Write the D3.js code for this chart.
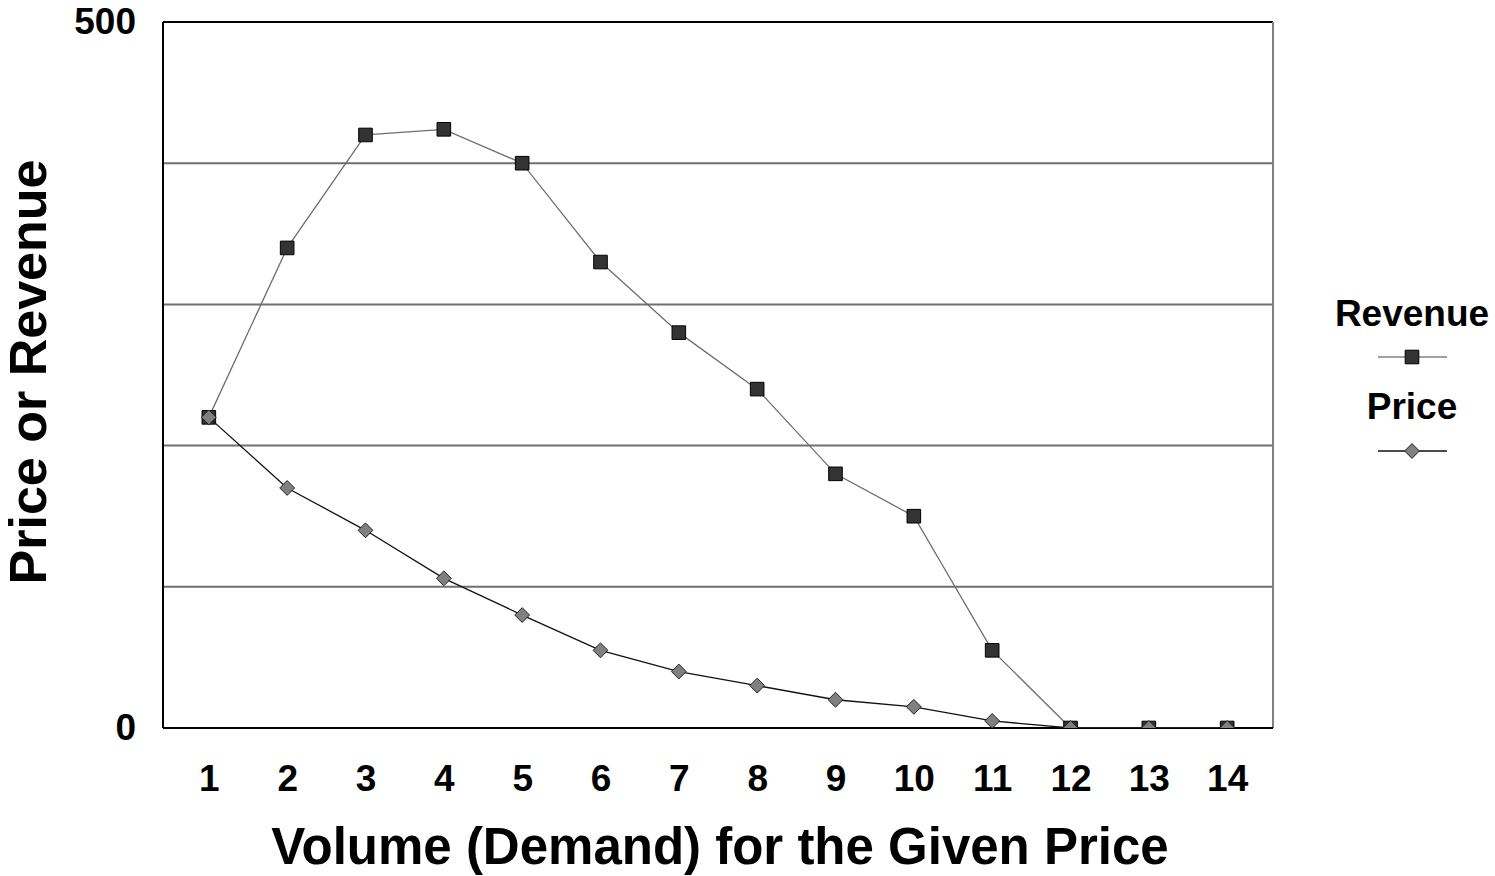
<!DOCTYPE html>
<html>
<head>
<meta charset="utf-8">
<script src="https://cdn.jsdelivr.net/npm/d3@7"></script>
<style>
  html, body { margin: 0; padding: 0; background: #fff; }
  svg { display: block; font-family: "Liberation Sans", Arial, sans-serif; font-weight: bold; }
</style>
</head>
<body>
<svg id="chart" width="1495" height="876"></svg>
<script>
// Volume (demand) levels on the x axis
const volumes = [1, 2, 3, 4, 5, 6, 7, 8, 9, 10, 11, 12, 13, 14];
// Unit price at each volume
const price = [220, 170, 140, 106, 80, 55, 40, 30, 20, 15, 5, 0, 0, 0];
// Revenue = price x volume
const revenue = [220, 340, 420, 424, 400, 330, 280, 240, 180, 150, 55, 0, 0, 0];
// Labelled y values and horizontal gridlines
const yTickLabels = [0, 500];
const gridValues = [100, 200, 300, 400];
const seriesNames = ["Revenue", "Price"];

const svg = d3.select("#chart");
const plot = { left: 163, top: 22, width: 1110, height: 706 };

const x = d3.scalePoint()
  .domain(volumes)
  .range([plot.left, plot.left + plot.width])
  .padding(0.585);

const y = d3.scaleLinear()
  .domain([0, 500])
  .range([plot.top + plot.height, plot.top]);

// clip markers to the plotting area
svg.append("defs").append("clipPath").attr("id", "plotClip")
  .append("rect")
  .attr("x", plot.left).attr("y", plot.top)
  .attr("width", plot.width).attr("height", plot.height);

// gridlines
svg.append("g").selectAll("line").data(gridValues).join("line")
  .attr("x1", plot.left).attr("x2", plot.left + plot.width)
  .attr("y1", d => y(d)).attr("y2", d => y(d))
  .attr("stroke", "#707070").attr("stroke-width", 2);

// plot frame: top/left black, right grey
svg.append("line")
  .attr("x1", plot.left).attr("x2", plot.left + plot.width)
  .attr("y1", plot.top).attr("y2", plot.top)
  .attr("stroke", "#000").attr("stroke-width", 2);
svg.append("line")
  .attr("x1", plot.left).attr("x2", plot.left)
  .attr("y1", plot.top).attr("y2", plot.top + plot.height)
  .attr("stroke", "#000").attr("stroke-width", 2);
svg.append("line")
  .attr("x1", plot.left + plot.width).attr("x2", plot.left + plot.width)
  .attr("y1", plot.top).attr("y2", plot.top + plot.height)
  .attr("stroke", "#808080").attr("stroke-width", 2);

// y axis labels (0 and 500 only)
const yAxis = d3.axisLeft(y).tickValues(yTickLabels).tickSize(0).tickPadding(27);
const yg = svg.append("g").attr("transform", `translate(${plot.left},0)`).call(yAxis);
yg.select(".domain").remove();
yg.selectAll("text")
  .attr("font-size", 37).attr("font-weight", "bold")
  .attr("font-family", "Liberation Sans, Arial, sans-serif")
  .attr("fill", "#000");

// x axis with category labels
const xAxis = d3.axisBottom(x).tickSize(0).tickPadding(37);
const xg = svg.append("g").attr("transform", `translate(0,${plot.top + plot.height})`).call(xAxis);
xg.select(".domain")
  .attr("d", `M${plot.left},0H${plot.left + plot.width}`)
  .attr("stroke", "#000").attr("stroke-width", 2);
xg.selectAll("text")
  .attr("font-size", 37).attr("font-weight", "bold")
  .attr("font-family", "Liberation Sans, Arial, sans-serif")
  .attr("fill", "#000");

// axis titles
svg.append("text")
  .attr("x", plot.left + plot.width / 2 + 2).attr("y", 864)
  .attr("text-anchor", "middle")
  .attr("font-size", 51).attr("fill", "#000")
  .text("Volume (Demand) for the Given Price");

svg.append("text")
  .attr("transform", `translate(46,${plot.top + plot.height / 2 - 3}) rotate(-90)`)
  .attr("text-anchor", "middle")
  .attr("font-size", 52).attr("fill", "#000")
  .text("Price or Revenue");

// series
const marks = svg.append("g").attr("clip-path", "url(#plotClip)");
const lineGen = d3.line().x((d, i) => x(volumes[i])).y(d => y(d));

const squareSym = d3.symbol().type(d3.symbolSquare).size(185);
const diamondSym = d3.symbol().type(d3.symbolDiamond2).size(140);

// Revenue: grey line, dark squares
marks.append("path").datum(revenue)
  .attr("d", lineGen).attr("fill", "none")
  .attr("stroke", "#6e6e6e").attr("stroke-width", 1.3);
marks.append("g").selectAll("path").data(revenue).join("path")
  .attr("transform", (d, i) => `translate(${x(volumes[i])},${y(d)})`)
  .attr("d", squareSym)
  .attr("fill", "#333").attr("stroke", "#000").attr("stroke-width", 1);

// Price: black line, grey diamonds
marks.append("path").datum(price)
  .attr("d", lineGen).attr("fill", "none")
  .attr("stroke", "#111").attr("stroke-width", 1.3);
marks.append("g").selectAll("path").data(price).join("path")
  .attr("transform", (d, i) => `translate(${x(volumes[i])},${y(d)})`)
  .attr("d", diamondSym)
  .attr("fill", "#808080").attr("stroke", "#222").attr("stroke-width", 1);

// legend
const legend = svg.append("g");
const legendCx = 1412;
const legendItems = [
  { name: seriesNames[0], textY: 326, markY: 357, sym: squareSym, fill: "#333", stroke: "#000", line: "#808080" },
  { name: seriesNames[1], textY: 419, markY: 451, sym: diamondSym, fill: "#808080", stroke: "#222", line: "#111" }
];
legendItems.forEach(it => {
  legend.append("text")
    .attr("x", legendCx).attr("y", it.textY)
    .attr("text-anchor", "middle")
    .attr("font-size", 37).attr("fill", "#000")
    .text(it.name);
  legend.append("line")
    .attr("x1", legendCx - 34).attr("x2", legendCx + 35)
    .attr("y1", it.markY).attr("y2", it.markY)
    .attr("stroke", it.line).attr("stroke-width", 1.3);
  legend.append("path")
    .attr("transform", `translate(${legendCx},${it.markY})`)
    .attr("d", it.sym)
    .attr("fill", it.fill).attr("stroke", it.stroke).attr("stroke-width", 1);
});
</script>
</body>
</html>
